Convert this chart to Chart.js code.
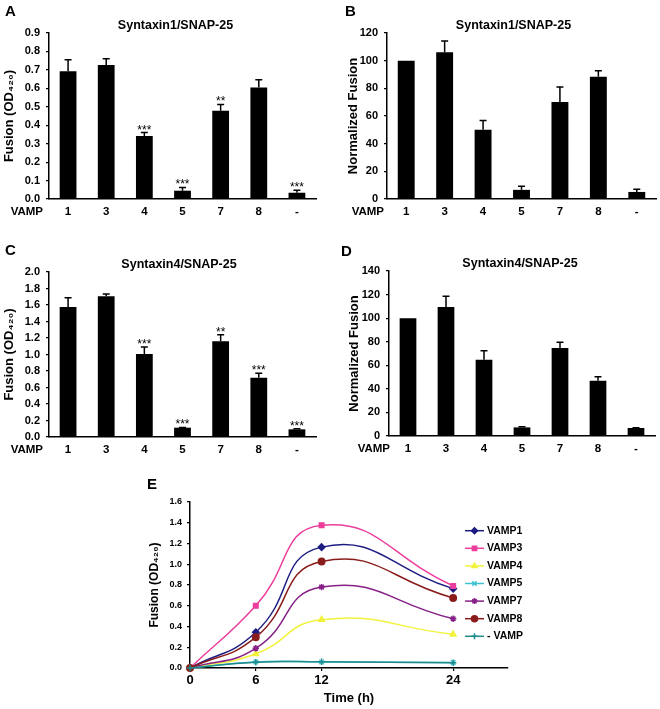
<!DOCTYPE html>
<html>
<head>
<meta charset="utf-8">
<script src="https://cdn.jsdelivr.net/npm/chart.js@4/dist/chart.umd.min.js"></script>
<style>
  html, body { margin: 0; padding: 0; background: #fff; }
  body { width: 660px; height: 709px; position: relative; overflow: hidden; }
  canvas { position: absolute; }
</style>
</head>
<body>
<canvas id="cA" width="330" height="225" style="left:0px;top:0px"></canvas>
<canvas id="cB" width="330" height="225" style="left:330px;top:0px"></canvas>
<canvas id="cC" width="330" height="225" style="left:0px;top:240px"></canvas>
<canvas id="cD" width="330" height="225" style="left:330px;top:240px"></canvas>
<canvas id="cE" width="660" height="239" style="left:0px;top:470px"></canvas>
<script>
// ---------- data ----------
const categories = ['1', '3', '4', '5', '7', '8', '-'];

const fusionSyx1 = [0.692, 0.727, 0.342, 0.045, 0.479, 0.605, 0.034];
const fusionSyx1Err = [0.063, 0.033, 0.018, 0.018, 0.034, 0.042, 0.013];
const fusionSyx1Stars = ['', '', '***', '***', '**', '', '***'];

const normSyx1 = [100, 106, 50, 6.6, 70.2, 88.3, 5.1];
const normSyx1Err = [0, 8.2, 6.7, 2.6, 10.8, 4.5, 1.9];

const fusionSyx4 = [1.576, 1.705, 1.006, 0.113, 1.16, 0.719, 0.093];
const fusionSyx4Err = [0.113, 0.028, 0.084, 0.003, 0.08, 0.053, 0.007];
const fusionSyx4Stars = ['', '', '***', '***', '**', '***', '***'];

const normSyx4 = [100, 109.5, 64.8, 7.3, 74.6, 46.8, 6.8];
const normSyx4Err = [0, 9, 7.5, 0.6, 5, 3.4, 0.3];

const timePoints = [0, 6, 12, 24];
const timeTicks = [0, 6, 12, 24];
const seriesNames = ['VAMP1', 'VAMP3', 'VAMP4', 'VAMP5', 'VAMP7', 'VAMP8', '- VAMP'];
const vamp1 = [0, 0.345, 1.165, 0.765];
const vamp3 = [0, 0.60, 1.375, 0.79];
const vamp4 = [0, 0.137, 0.466, 0.325];
const vamp5 = [0, 0.058, 0.058, 0.052];
const vamp7 = [0, 0.19, 0.78, 0.475];
const vamp8 = [0, 0.297, 1.027, 0.675];
const noVamp = [0, 0.055, 0.06, 0.05];

// ---------- styles ----------
const FONT = "'Liberation Sans', Arial, Helvetica, sans-serif";
const NARROW = "'Liberation Sans Narrow', 'Liberation Sans', Arial, sans-serif";

function drawMarker(ctx, style, x, y, r, color) {
  ctx.save();
  ctx.fillStyle = color; ctx.strokeStyle = color; ctx.lineWidth = 1.5;
  if (window.Chart && Chart.helpers && Chart.helpers.drawPoint) {
    Chart.helpers.drawPoint(ctx, {pointStyle: style, rotation: 0, radius: r, borderWidth: 1.5}, x, y);
  } else {
    ctx.beginPath(); ctx.arc(x, y, r, 0, Math.PI * 2); ctx.fill();
  }
  ctx.restore();
}

// ---------- plugins ----------
const panelText = {
  id: 'panelText',
  afterDraw(chart, args, o) {
    const ctx = chart.ctx, ca = chart.chartArea;
    ctx.save();
    ctx.fillStyle = '#000';
    if (o.letter) {
      ctx.font = 'bold 15px ' + FONT;
      ctx.textAlign = 'left'; ctx.textBaseline = 'middle';
      ctx.fillText(o.letter, o.letterX, o.letterY);
    }
    if (o.title) {
      ctx.font = 'bold 12.5px ' + FONT;
      ctx.textAlign = 'center'; ctx.textBaseline = 'middle';
      ctx.fillText(o.title, (ca.left + ca.right) / 2 + o.titleDX, ca.top + o.titleDY);
    }
    if (o.catName) {
      const xs = chart.scales.x;
      ctx.font = 'bold 11.5px ' + NARROW;
      ctx.textAlign = 'right'; ctx.textBaseline = 'middle';
      ctx.fillText(o.catName, ca.left + o.catDX, xs.top + 6 + 11.5 * 1.2 / 2);
    }
    ctx.restore();
  }
};

const errorBars = {
  id: 'errorBars',
  afterDatasetsDraw(chart, args, o) {
    const ctx = chart.ctx, ys = chart.scales.y;
    const meta = chart.getDatasetMeta(0);
    const vals = chart.data.datasets[0].data;
    ctx.save();
    ctx.strokeStyle = '#000'; ctx.lineWidth = 1.5; ctx.fillStyle = '#000';
    meta.data.forEach((bar, i) => {
      const e = (o.errors || [])[i] || 0;
      const y0 = ys.getPixelForValue(vals[i]);
      const y1 = ys.getPixelForValue(vals[i] + e);
      const cx = bar.x;
      if (e > 0) {
        ctx.beginPath();
        ctx.moveTo(cx, y0); ctx.lineTo(cx, y1);
        ctx.moveTo(cx - 3.5, y1); ctx.lineTo(cx + 3.5, y1);
        ctx.stroke();
      }
      const s = (o.stars || [])[i];
      if (s) {
        ctx.font = '12px ' + FONT;
        ctx.textAlign = 'center'; ctx.textBaseline = 'alphabetic';
        ctx.fillText(s, cx, y1 + 1);
      }
    });
    ctx.restore();
  }
};

const lineLegend = {
  id: 'lineLegend',
  afterDraw(chart, args, o) {
    const ctx = chart.ctx;
    ctx.save();
    chart.data.datasets.forEach((ds, i) => {
      const y = o.y0 + i * o.dy;
      ctx.strokeStyle = ds.borderColor; ctx.lineWidth = 1.5;
      ctx.beginPath(); ctx.moveTo(o.x0, y); ctx.lineTo(o.x1, y); ctx.stroke();
      drawMarker(ctx, ds.pointStyle, (o.x0 + o.x1) / 2, y, 3, ds.borderColor);
      ctx.fillStyle = '#000';
      ctx.font = 'bold 10.5px ' + FONT;
      ctx.textAlign = 'left'; ctx.textBaseline = 'middle';
      ctx.fillText(ds.label, o.xText, y);
    });
    ctx.restore();
  }
};

// ---------- bar panels ----------
function barPanel(id, p) {
  return new Chart(document.getElementById(id), {
    type: 'bar',
    data: {
      labels: categories,
      datasets: [{ data: p.values, backgroundColor: '#000', borderWidth: 0,
                   barPercentage: 0.44, categoryPercentage: 1 }]
    },
    plugins: [errorBars, panelText],
    options: {
      responsive: false, animation: false, devicePixelRatio: 1,
      layout: { padding: { top: p.padTop, right: p.padRight, left: 0, bottom: 0 } },
      plugins: {
        legend: { display: false }, tooltip: { enabled: false },
        errorBars: { errors: p.errors, stars: p.stars },
        panelText: { letter: p.letter, letterX: p.letterX, letterY: p.letterY,
                     title: p.title, titleDX: p.titleDX, titleDY: -7.5,
                     catName: 'VAMP', catDX: p.catDX }
      },
      scales: {
        x: {
          grid: { display: false, drawTicks: false },
          border: { display: true, color: '#000', width: 1.5 },
          ticks: { color: '#000', padding: 6, font: { family: NARROW, size: 11.5, weight: 'bold' } },
          afterFit(s) { s.height = p.xH; }
        },
        y: {
          min: 0, max: p.max,
          ticks: { stepSize: p.step, color: '#000', padding: 6,
                   font: { family: FONT, size: 11, weight: 'bold' },
                   callback: v => p.dec ? Number(v).toFixed(p.dec) : String(Math.round(v)) },
          grid: { display: true, drawOnChartArea: false, drawTicks: true, tickLength: 3,
                  color: '#000', lineWidth: 1.2 },
          border: { display: true, color: '#000', width: 1.5 },
          title: { display: true, text: p.yTitle, color: '#000',
                   font: { family: FONT, size: 13, weight: 'bold' },
                   padding: { top: p.yTitlePad, bottom: 0 } },
          afterFit(s) { s.width = p.yW; }
        }
      }
    }
  });
}

barPanel('cA', { values: fusionSyx1, errors: fusionSyx1Err, stars: fusionSyx1Stars,
  max: 0.9, step: 0.1, dec: 1, yTitle: 'Fusion (OD\u2084\u2082\u2080)', yTitlePad: 1.5,
  title: 'Syntaxin1/SNAP-25', titleDX: -7, letter: 'A', letterX: 5, letterY: 12,
  padTop: 33, padRight: 14, yW: 49, xH: 26, catDX: -6 });

barPanel('cB', { values: normSyx1, errors: normSyx1Err, stars: [],
  max: 120, step: 20, dec: 0, yTitle: 'Normalized Fusion', yTitlePad: 16,
  title: 'Syntaxin1/SNAP-25', titleDX: -8, letter: 'B', letterX: 15, letterY: 12,
  padTop: 33, padRight: 4, yW: 57, xH: 26, catDX: -3 });

barPanel('cC', { values: fusionSyx4, errors: fusionSyx4Err, stars: fusionSyx4Stars,
  max: 2.0, step: 0.2, dec: 1, yTitle: 'Fusion (OD\u2084\u2082\u2080)', yTitlePad: 1.5,
  title: 'Syntaxin4/SNAP-25', titleDX: -3.5, letter: 'C', letterX: 5, letterY: 11,
  padTop: 32, padRight: 14, yW: 49, xH: 28, catDX: -6 });

barPanel('cD', { values: normSyx4, errors: normSyx4Err, stars: [],
  max: 140, step: 20, dec: 0, yTitle: 'Normalized Fusion', yTitlePad: 17,
  title: 'Syntaxin4/SNAP-25', titleDX: -2, letter: 'D', letterX: 11, letterY: 12,
  padTop: 31, padRight: 5, yW: 59, xH: 29, catDX: 1 });

// ---------- time course panel ----------
const seriesValues = [vamp1, vamp3, vamp4, vamp5, vamp7, vamp8, noVamp];
const seriesColors = ['#1c1c82', '#ec3d9c', '#f2f23c', '#3ec3d2', '#862086', '#8a1c1c', '#1f8a8a'];
const seriesMarkers = ['rectRot', 'rect', 'triangle', 'crossRot', 'star', 'circle', 'cross'];

new Chart(document.getElementById('cE'), {
  type: 'line',
  data: {
    datasets: seriesNames.map((name, k) => ({
      label: name,
      data: timePoints.map((t, i) => ({ x: t, y: seriesValues[k][i] })),
      borderColor: seriesColors[k], backgroundColor: seriesColors[k],
      pointBackgroundColor: seriesColors[k], pointBorderColor: seriesColors[k],
      pointStyle: seriesMarkers[k], pointRadius: 3.2, pointBorderWidth: 1.5,
      borderWidth: 1.5, tension: 0.5, fill: false, clip: false, order: -k
    }))
  },
  plugins: [lineLegend, panelText],
  options: {
    responsive: false, animation: false, devicePixelRatio: 1,
    layout: { padding: { top: 32, right: 152, left: 0, bottom: 0 } },
    plugins: {
      legend: { display: false }, tooltip: { enabled: false },
      lineLegend: { x0: 465, x1: 484, xText: 487, y0: 60.7, dy: 17.6 },
      panelText: { letter: 'E', letterX: 147, letterY: 15 }
    },
    scales: {
      x: {
        type: 'linear', min: 0, max: 29,
        afterBuildTicks(s) { s.ticks = timeTicks.map(v => ({ value: v })); },
        ticks: { color: '#000', padding: 2, font: { family: FONT, size: 13, weight: 'bold' } },
        grid: { display: true, drawOnChartArea: false, drawTicks: true, tickLength: 3,
                color: '#000', lineWidth: 1.2 },
        border: { display: true, color: '#000', width: 1.5 },
        title: { display: true, text: 'Time (h)', color: '#000',
                 font: { family: FONT, size: 13, weight: 'bold' }, padding: { top: 0, bottom: 3.2 } },
        afterFit(s) { s.height = 41; }
      },
      y: {
        min: 0, max: 1.6,
        ticks: { stepSize: 0.2, color: '#000', padding: 5,
                 font: { family: FONT, size: 9, weight: 'bold' },
                 callback: v => Number(v).toFixed(1) },
        grid: { display: true, drawOnChartArea: false, drawTicks: true, tickLength: 3,
                color: '#000', lineWidth: 1.2 },
        border: { display: true, color: '#000', width: 1.5 },
        title: { display: true, text: 'Fusion (OD\u2084\u2082\u2080)', color: '#000',
                 font: { family: FONT, size: 12, weight: 'bold' }, padding: { top: 147.8, bottom: 0 } },
        afterFit(s) { s.width = 190; }
      }
    }
  }
});
</script>
</body>
</html>
